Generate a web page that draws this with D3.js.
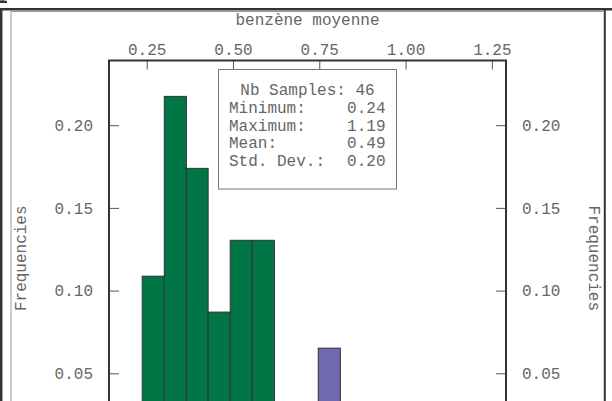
<!DOCTYPE html>
<html><head><meta charset="utf-8">
<script src="https://cdn.jsdelivr.net/npm/d3@7"></script>
<style>
html,body{margin:0;padding:0;background:#fff;overflow:hidden;}
text{font-family:"Liberation Mono","Courier New",monospace;}
</style></head>
<body>
<svg id="chart" width="612" height="401"></svg>
<script>
// ---- data ----
const binEdges = [0.237, 0.301, 0.365, 0.428, 0.492, 0.556, 0.620, 0.683, 0.747, 0.811, 0.875, 0.938, 1.002, 1.066, 1.130, 1.193];
const frequencies = [0.1087, 0.2174, 0.1739, 0.0870, 0.1304, 0.1304, 0.0217, 0, 0.0652, 0.0217, 0.0217, 0, 0, 0, 0.0217];
const binGroup = ["main","main","main","main","main","main","main","main","highlight","main","main","main","main","main","main"];
const xTicks = [0.25, 0.50, 0.75, 1.00, 1.25];
const yTicks = [0.05, 0.10, 0.15, 0.20];
const statLabels = ["Minimum:", "Maximum:", "Mean:", "Std. Dev.:"];
const statValues = ["0.24", "1.19", "0.49", "0.20"];
const nbSamples = 46;
const xTitle = "benzène moyenne";
const yTitle = "Frequencies";

// ---- layout ----
const svg = d3.select("#chart");
const L = 109, R = 506, T = 60.5, B = 456;
const x = d3.scaleLinear().domain([0.1408, 1.291]).range([L, R]);
const y = d3.scaleLinear().domain([0, 0.2391]).range([B, T]);
const color = d3.scaleOrdinal().domain(["main","highlight"]).range(["#007647", "#6F69B0"]);
const textCol = "#666";

// outer frame
svg.append("path").attr("d","M0,3 L0,0.5 Q3,0 7,1 L7,3 Z").attr("fill","#333");
svg.append("line").attr("x1",0).attr("x2",612).attr("y1",9.2).attr("y2",9.2).attr("stroke","#333").attr("stroke-width",2.5);
svg.append("line").attr("x1",1.2).attr("x2",1.2).attr("y1",9).attr("y2",420).attr("stroke","#333").attr("stroke-width",2.5);
svg.append("line").attr("x1",604.8).attr("x2",604.8).attr("y1",9).attr("y2",420).attr("stroke","#333").attr("stroke-width",2);
svg.append("line").attr("x1",11).attr("x2",603.5).attr("y1",11.5).attr("y2",11.5).attr("stroke","#999").attr("stroke-width",1);
svg.append("line").attr("x1",11).attr("x2",11).attr("y1",11).attr("y2",420).attr("stroke","#999").attr("stroke-width",1);

// bars
const bins = frequencies.map((f,i)=>({x0:binEdges[i], x1:binEdges[i+1], f, g:binGroup[i]}));
svg.append("g").selectAll("rect").data(bins.filter(d=>d.f>0)).join("rect")
  .attr("x", d=>x(d.x0)).attr("width", d=>x(d.x1)-x(d.x0))
  .attr("y", d=>y(d.f)).attr("height", d=>y(0)-y(d.f))
  .attr("fill", d=>color(d.g)).attr("stroke","#333").attr("stroke-width",1);

// axes
function styleAxis(g){
  g.select(".domain").remove();
  g.selectAll(".tick line").attr("stroke","#555").attr("stroke-width",1);
  g.selectAll(".tick text").attr("fill",textCol).style("font-size","16px")
   .style("font-family",'"Liberation Mono","Courier New",monospace');
}
svg.append("g").attr("transform",`translate(0,${T})`)
  .call(d3.axisTop(x).tickValues(xTicks).tickFormat(d3.format(".2f")).tickSize(-9).tickPadding(5.5))
  .call(styleAxis);
svg.append("g").attr("transform",`translate(${L},0)`)
  .call(d3.axisLeft(y).tickValues(yTicks).tickFormat(d3.format(".2f")).tickSize(-10).tickPadding(16))
  .call(styleAxis);
svg.append("g").attr("transform",`translate(${R},0)`)
  .call(d3.axisRight(y).tickValues(yTicks).tickFormat(d3.format(".2f")).tickSize(-10).tickPadding(16))
  .call(styleAxis);

// plot frame
svg.append("path").attr("d",`M${L},${B+20} L${L},${T} L${R},${T} L${R},${B+20}`)
  .attr("fill","none").attr("stroke","#333").attr("stroke-width",2);

// titles
svg.append("text").attr("x",(L+R)/2).attr("y",25).attr("text-anchor","middle")
  .attr("fill",textCol).style("font-size","16px").text(xTitle);
svg.append("text").attr("transform",`translate(26,${(T+B)/2}) rotate(-90)`).attr("text-anchor","middle")
  .attr("fill",textCol).style("font-size","16px").text(yTitle);
svg.append("text").attr("transform",`translate(589,${(T+B)/2}) rotate(90)`).attr("text-anchor","middle")
  .attr("fill",textCol).style("font-size","16px").text(yTitle);

// stats box
const bx0 = 218.5, by0 = 69.5, bx1 = 396.5, by1 = 189;
svg.append("rect").attr("x",bx0).attr("y",by0).attr("width",bx1-bx0).attr("height",by1-by0)
  .attr("fill","#fff").attr("stroke","#777").attr("stroke-width",1);
svg.append("text").attr("x",(bx0+bx1)/2).attr("y",95).attr("text-anchor","middle")
  .attr("fill",textCol).style("font-size","16px").text("Nb Samples: " + nbSamples);
statLabels.forEach((lab,i)=>{
  const yy = 113 + i*17.7;
  svg.append("text").attr("x",229).attr("y",yy).attr("fill",textCol).style("font-size","16px").text(lab);
  svg.append("text").attr("x",385.5).attr("y",yy).attr("text-anchor","end").attr("fill",textCol).style("font-size","16px").text(statValues[i]);
});
</script>
</body></html>
